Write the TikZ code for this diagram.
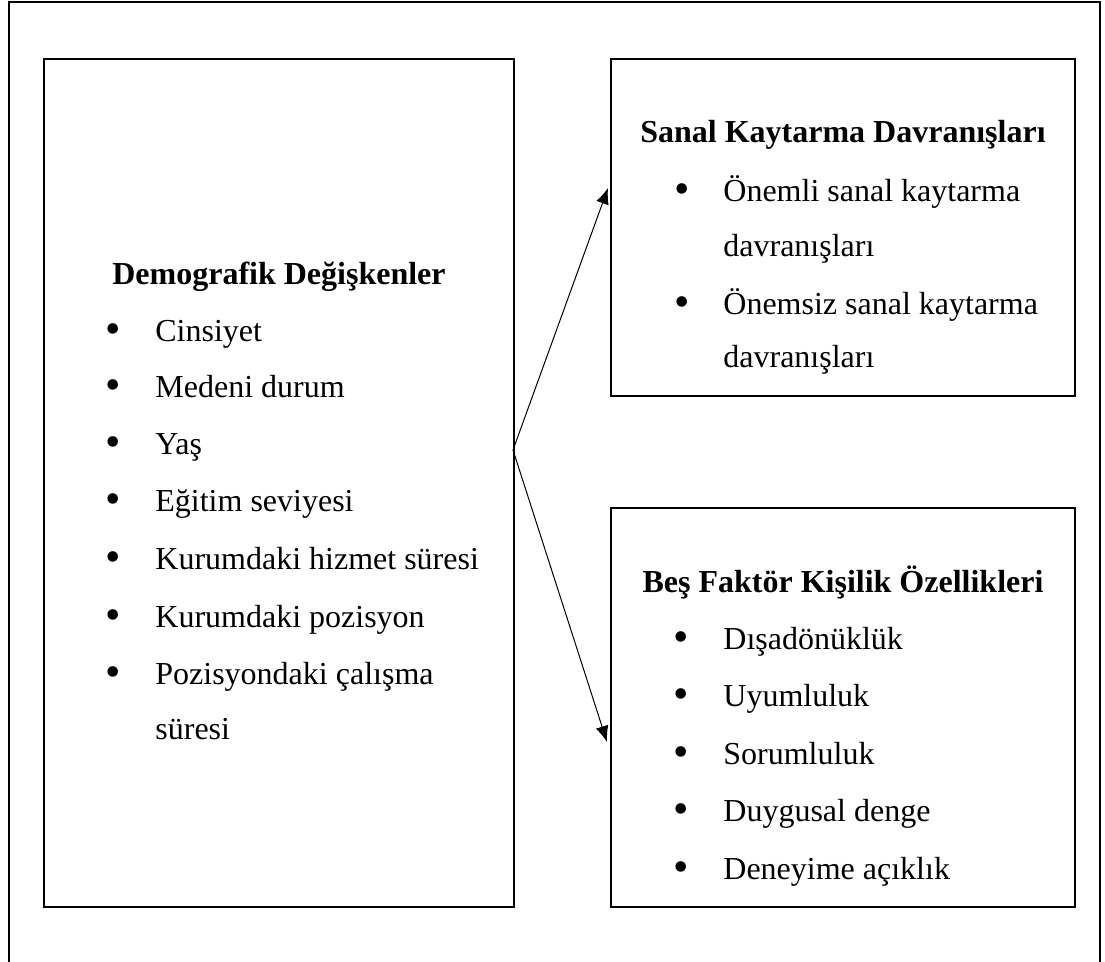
\documentclass[tikz,border=0pt]{standalone}
\usepackage{fontspec}
\setmainfont{Liberation Serif}
\usetikzlibrary{arrows.meta}

\begin{document}
\begin{tikzpicture}[x=0.5pt,y=-0.5pt,
    font=\fontsize{16}{19}\selectfont,
    kutu/.style={draw,line width=1pt,inner sep=0pt,outer sep=0pt},
    baslik/.style={anchor=base,inner sep=0pt,font=\fontsize{16}{19}\selectfont\bfseries},
    yazi/.style={anchor=base west,inner sep=0pt},
    madde/.style={anchor=base,inner sep=0pt,font=\fontsize{22}{24}\selectfont},
    ok/.style={-{Latex[length=8pt,width=6.5pt]},line width=0.5pt}]
  \useasboundingbox (0,0) rectangle (1105,962);

  % outer frame
  \draw[line width=1pt] (9,962) -- (9,2) -- (1100,2) -- (1100,962);

  % boxes
  \node[kutu,minimum width=235pt,minimum height=424pt] (demo) at (279,483) {};
  \node[kutu,minimum width=232pt,minimum height=168.5pt] (sanal) at (843,227.5) {};
  \node[kutu,minimum width=232pt,minimum height=199.5pt] (bes) at (843,707.5) {};

  % headings
  \node[baslik] (demoB) at (279,285) {Demografik Değişkenler};
  \node[baslik] (sanalB) at (843,143) {Sanal Kaytarma Davranışları};
  \node[baslik] (besB) at (843,593) {Beş Faktör Kişilik Özellikleri};

  % demographic list
  \foreach \y/\metin [count=\i] in {342/Cinsiyet, 398/Medeni durum, 455/Yaş,
      512/Eğitim seviyesi, 570/Kurumdaki hizmet süresi, 628/Kurumdaki pozisyon,
      685/Pozisyondaki çalışma}
    {\node[madde] (demoM\i) at (113,\y+2) {\textbullet};
     \node[yazi] (demo\i) at (155,\y) {\metin};}
  \node[yazi] (demo8) at (155,740) {süresi};

  % cyberloafing list
  \foreach \y/\metin [count=\i] in {202/Önemli sanal kaytarma, 315/Önemsiz sanal kaytarma}
    {\node[madde] (sanalM\i) at (682,\y+2) {\textbullet};
     \node[yazi] (sanal\i) at (723,\y) {\metin};}
  \node[yazi] (sanal3) at (723,257) {davranışları};
  \node[yazi] (sanal4) at (723,368) {davranışları};

  % personality list
  \foreach \y/\metin [count=\i] in {650/Dışadönüklük, 707/Uyumluluk, 765/Sorumluluk,
      822/Duygusal denge, 880/Deneyime açıklık}
    {\node[madde] (besM\i) at (681,\y+2) {\textbullet};
     \node[yazi] (bes\i) at (723,\y) {\metin};}

  % arrows
  \coordinate (kaynak) at (513,450);
  \coordinate (ucA) at (608,188);
  \coordinate (ucB) at (607,742);
  \draw[ok] (kaynak) -- (ucA);
  \draw[ok] (kaynak) -- (ucB);
\end{tikzpicture}
\end{document}
